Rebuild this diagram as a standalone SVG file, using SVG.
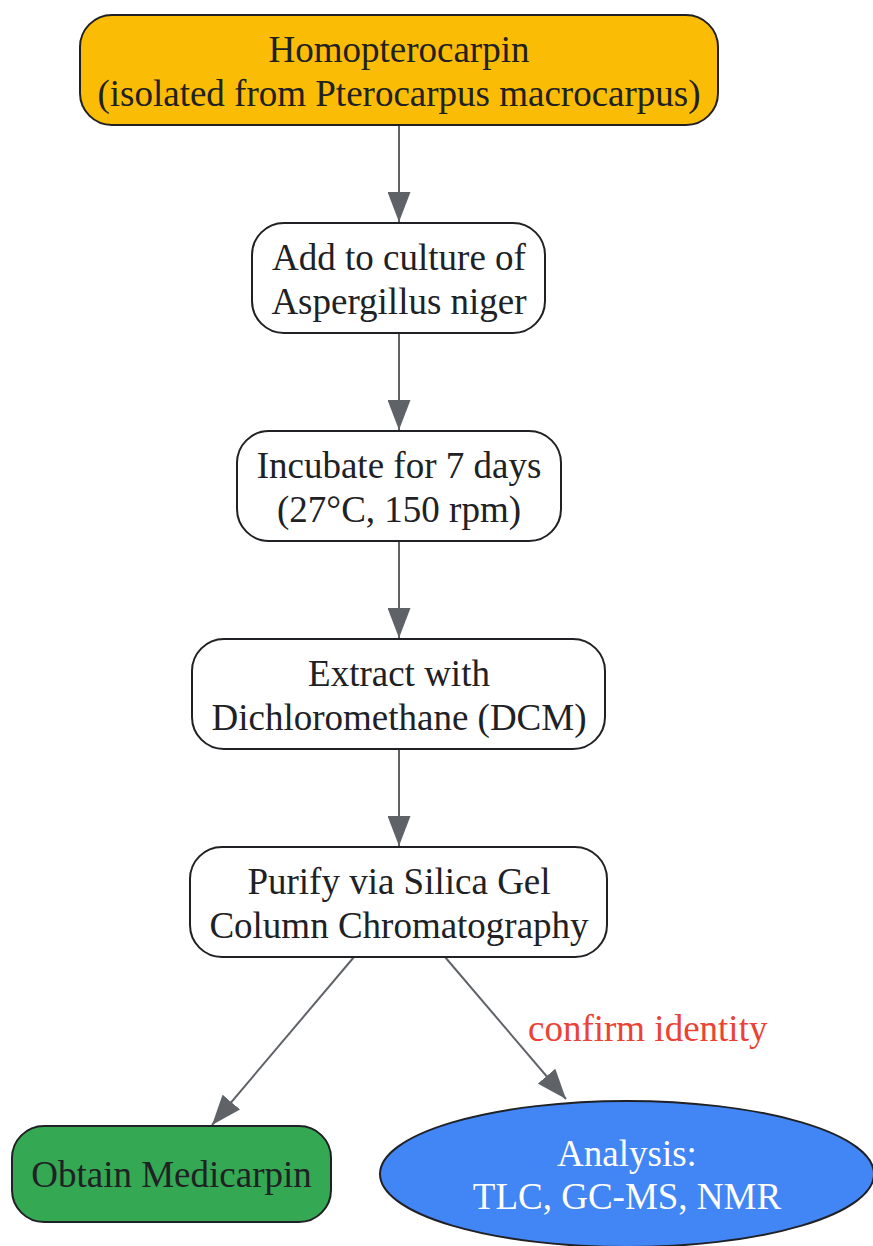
<svg xmlns="http://www.w3.org/2000/svg" width="873" height="1246" viewBox="0 0 873 1246">
<style>
.n{stroke:#202124;stroke-width:2}
.t{font-family:"Liberation Serif",serif;font-size:37px;fill:#202124;text-anchor:middle}
.w{fill:#ffffff}
.e{stroke:#5f6368;stroke-width:2;fill:none}
.l{font-family:"Liberation Serif",serif;font-size:37px;fill:#EA4335}
</style>
<defs>
<marker id="ah" viewBox="0 0 30 23" refX="30" refY="11.5" markerWidth="30" markerHeight="23" orient="auto" markerUnits="userSpaceOnUse">
<path d="M0,0 L30,11.5 L0,23 z" fill="#5f6368"/>
</marker>
</defs>
<g id="edges">
<line class="e" x1="399" y1="125" x2="399" y2="222" marker-end="url(#ah)"/>
<line class="e" x1="399" y1="333" x2="399" y2="430" marker-end="url(#ah)"/>
<line class="e" x1="399" y1="541" x2="399" y2="638" marker-end="url(#ah)"/>
<line class="e" x1="399" y1="749" x2="399" y2="846" marker-end="url(#ah)"/>
<line class="e" x1="354" y1="957" x2="212" y2="1125" marker-end="url(#ah)"/>
<line class="e" x1="445" y1="957" x2="566" y2="1099" marker-end="url(#ah)"/>
<text class="l" x="528" y="1041">confirm identity</text>
</g>
<g id="n1">
<rect class="n" x="80" y="15" width="638" height="110" rx="32" fill="#FBBC05"/>
<text class="t" x="399" y="62">Homopterocarpin</text>
<text class="t" x="399" y="106">(isolated from Pterocarpus macrocarpus)</text>
</g>
<g id="n2">
<rect class="n" x="252" y="223" width="293" height="110" rx="32" fill="#ffffff"/>
<text class="t" x="399" y="270">Add to culture of</text>
<text class="t" x="399" y="314">Aspergillus niger</text>
</g>
<g id="n3">
<rect class="n" x="237" y="431" width="324" height="110" rx="32" fill="#ffffff"/>
<text class="t" x="399" y="478">Incubate for 7 days</text>
<text class="t" x="399" y="522">(27°C, 150 rpm)</text>
</g>
<g id="n4">
<rect class="n" x="192" y="639" width="413" height="110" rx="32" fill="#ffffff"/>
<text class="t" x="399" y="686">Extract with</text>
<text class="t" x="399" y="730">Dichloromethane (DCM)</text>
</g>
<g id="n5">
<rect class="n" x="190" y="847" width="417" height="110" rx="32" fill="#ffffff"/>
<text class="t" x="399" y="894">Purify via Silica Gel</text>
<text class="t" x="399" y="938">Column Chromatography</text>
</g>
<g id="n6">
<rect class="n" x="12" y="1126" width="319" height="96" rx="32" fill="#34A853"/>
<text class="t" x="171.5" y="1187">Obtain Medicarpin</text>
</g>
<g id="n7">
<ellipse class="n" cx="627" cy="1174" rx="247" ry="73" fill="#4285F4"/>
<text class="t w" x="627" y="1166">Analysis:</text>
<text class="t w" x="627" y="1209">TLC, GC-MS, NMR</text>
</g>
</svg>
